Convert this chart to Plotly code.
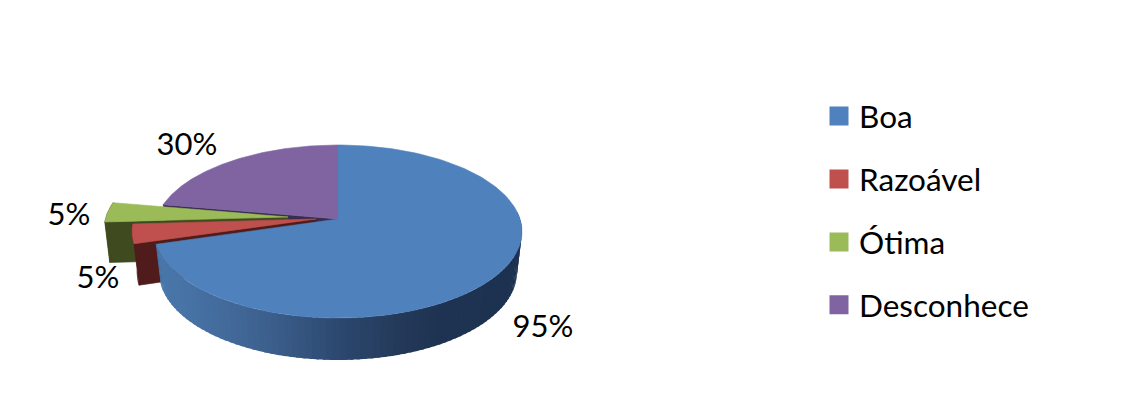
import numpy as np
import plotly.graph_objects as go

categories = ["Boa", "Razoável", "Ótima", "Desconhece"]
values = [95, 5, 5, 30]
labels = ["95%", "5%", "5%", "30%"]

top_colors = ["#4f81bd", "#c0504d", "#9bbb59", "#8064a2"]
wall_colors = ["#1f3451", "#4f1c1b", "#3f4a1f", "#392c4d"]
explode = [(0, 0), (-22, 0), (-50, -2), (0, 0)]
label_pos = [(543, 329), (98, 280), (69, 217), (187, 147)]

CX, CY, A, B, K = 338.0, 219.0, 182.0, 84.7, 0.1445
DEPTH, SHRINK, SHRINK_Y = 40.5, 0.973, 1.015

W, H = 1121, 415


def project(theta, dx=0.0, dy=0.0, lower=False):
    theta = np.asarray(theta, dtype=float)
    u, v = np.sin(np.radians(theta)), np.cos(np.radians(theta))
    w = 1 + K * v
    sx = SHRINK if lower else 1.0
    sy = SHRINK_Y if lower else 1.0
    off = DEPTH if lower else 0.0
    return CX + dx + sx * A * u / w, CY + dy + off - sy * B * v / w


fracs = np.array(values, dtype=float) / sum(values)
edges = np.concatenate([[0], np.cumsum(fracs) * 360])

fig = go.Figure()


def poly(xs, ys, color, lw=0.6):
    fig.add_trace(go.Scatter(
        x=list(xs), y=list(ys), mode="lines", fill="toself", fillcolor=color,
        line=dict(color=color, width=lw), hoverinfo="skip", showlegend=False))


def apex(dx, dy, lower=False):
    if lower:
        return CX + dx, CY + dy + DEPTH
    return CX + dx, CY + dy


def sector_top(i):
    t = np.linspace(edges[i], edges[i + 1], 160)
    dx, dy = explode[i]
    x, y = project(t, dx, dy)
    ax, ay = apex(dx, dy)
    return np.r_[ax, x, ax], np.r_[ay, y, ay]


def cut_wall(i, theta):
    dx, dy = explode[i]
    x0, y0 = project([theta], dx, dy)
    x1, y1 = project([theta], dx, dy, lower=True)
    ax, ay = apex(dx, dy)
    bx, by = apex(dx, dy, lower=True)
    return [ax, x0[0], x1[0], bx, ax], [ay, y0[0], y1[0], by, ay]


# Desconhece: cut face, then top
poly(*cut_wall(3, edges[3]), wall_colors[3])
poly(*sector_top(3), top_colors[3])

# Ótima and Razoável: walls, then tops
for i in (2, 1):
    poly(*cut_wall(i, edges[i]), wall_colors[i])
    t = np.linspace(edges[i], edges[i + 1], 40)
    dx, dy = explode[i]
    xa, ya = project(t, dx, dy)
    xb, yb = project(t[::-1], dx, dy, lower=True)
    poly(np.r_[xa, xb], np.r_[ya, yb], wall_colors[i])
    poly(*sector_top(i), top_colors[i])

# Boa: shaded outer side, then top
shade_x = [155, 200, 260, 340, 400, 440, 522]
shade_r = [74, 70, 62, 44, 36, 31, 29]
shade_g = [120, 112, 98, 72, 58, 52, 50]
shade_b = [172, 162, 144, 110, 90, 82, 80]
steps = np.linspace(85, edges[1], 90)
for t0, t1 in zip(steps[:-1], steps[1:]):
    seg = np.linspace(t0, t1 + 0.8, 4)
    xa, ya = project(seg)
    xb, yb = project(seg[::-1], lower=True)
    xm = float(xa.mean())
    col = "rgb(%d,%d,%d)" % (np.interp(xm, shade_x, shade_r),
                             np.interp(xm, shade_x, shade_g),
                             np.interp(xm, shade_x, shade_b))
    poly(np.r_[xa, xb], np.r_[ya, yb], col, lw=0)
poly(*sector_top(0), top_colors[0])

# Data labels
fig.add_trace(go.Scatter(
    x=[p[0] for p in label_pos], y=[p[1] for p in label_pos],
    mode="text", text=labels, textposition="middle center",
    textfont=dict(family="Lato", size=31, color="#000000"),
    hoverinfo="skip", showlegend=False))

# Legend entries
for name, color in zip(categories, top_colors):
    fig.add_trace(go.Scatter(
        x=[None], y=[None], mode="markers", name=name, legendgroup=name,
        marker=dict(symbol="square", size=19, color=color,
                    line=dict(color=color, width=3))))

fig.update_layout(
    width=W, height=H, margin=dict(l=0, r=0, t=0, b=0),
    paper_bgcolor="#ffffff", plot_bgcolor="#ffffff",
    xaxis=dict(range=[0, W], visible=False, fixedrange=True),
    yaxis=dict(range=[H, 0], visible=False, fixedrange=True),
    legend=dict(x=819 / W, xanchor="left", y=1 - 89 / H, yanchor="top",
                font=dict(family="Lato", size=31.5, color="#000000"),
                tracegroupgap=19, itemsizing="trace",
                bgcolor="rgba(0,0,0,0)"),
)

fig.write_html("out.html", config={"displayModeBar": False},
               post_script="document.body.style.margin='0';")
